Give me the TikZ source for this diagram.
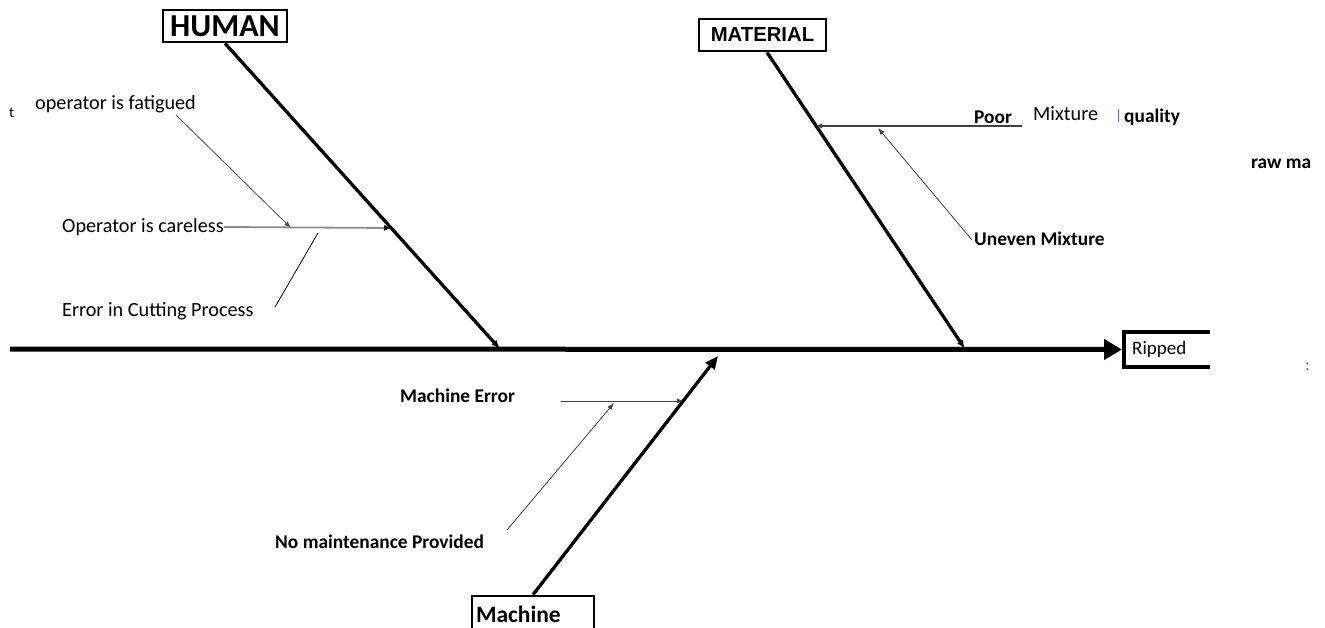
\documentclass[tikz,border=0pt]{standalone}
\usepackage{fontspec}
\setmainfont{Carlito}
\newfontfamily\arialf{Liberation Sans}
\usetikzlibrary{arrows.meta}
\begin{document}
\begin{tikzpicture}[x=1pt,y=-1pt,
 txt/.style={anchor=west,inner sep=0pt,font=\fontsize{20.2}{22}\selectfont},
 btxt/.style={anchor=west,inner sep=0pt,font=\fontsize{19.4}{22}\selectfont\bfseries},
 bone/.style={line width=3.3pt,-{Latex[length=9pt,width=7pt]}},
 sub/.style={line width=0.8pt,draw=black!75,-{Latex[length=7pt,width=5pt]}},
 plain/.style={line width=0.8pt,draw=black},
 cat/.style={draw,line width=2.6pt,inner sep=1pt,minimum height=32pt}]
\useasboundingbox (0,0) rectangle (1325,628);
% category boxes
\node[cat,minimum width=124pt,font=\fontsize{32}{34}\selectfont\bfseries] (human) at (225,26) {HUMAN};
\node[cat,minimum width=127pt,font=\arialf\fontsize{20.3}{22}\selectfont\bfseries] (material) at (762.5,35) {MATERIAL};
\node[cat,minimum height=36pt,text width=114pt,align=left,inner xsep=4pt,font=\fontsize{23.5}{26}\selectfont\bfseries] (machine) at (533,614) {Machine};
% effect
\node[inner xsep=8pt,text width=70pt,align=left,minimum height=35pt,anchor=west,font=\fontsize{19}{20}\selectfont] (effect) at (1124,349.5) {Ripped};
\draw[line width=4pt] (effect.north east) -- (effect.north west) -- (effect.south west) -- (effect.south east);
% spine
\coordinate (tail) at (10,349);
\draw[line width=5pt,-{Triangle[length=18pt,width=20pt]},shorten >=2pt] (tail) -- (effect.west);
% bones
\coordinate (hb) at (500,349);
\coordinate (mb) at (965,349);
\coordinate (kb) at (718,356);
\draw[bone] (human.south) -- (hb);
\draw[bone] ([xshift=4.5pt]material.south) -- (mb);
\draw[line width=3.3pt,-{Triangle[length=13pt,width=11pt]}] (machine.north) -- (kb);
% texts
\node[txt,font=\fontsize{15}{16}\selectfont] (t) at (9,113) {t};
\node[txt] (fatigued) at (35,104) {operator is fatigued};
\node[txt] (careless) at (62,227) {Operator is careless};
\node[txt] (cutting) at (62,311) {Error in Cutting Process};
\node[btxt] (poor) at (974,117) {Poor};
\node[txt] (mixture) at (1033,114) {Mixture};
\node[btxt] (quality) at (1124,117) {quality};
\node[btxt] (uneven) at (974,239) {Uneven Mixture};
\node[btxt] (rawma) at (1251,164) {raw ma};
\node[btxt] (merror) at (400,396) {Machine Error};
\node[btxt] (nomaint) at (275,542) {No maintenance Provided};
\node[txt,font=\fontsize{17}{18}\selectfont,text=black!60] (colon) at (1305,367) {:};
\coordinate (bar1) at (1118,109);
\coordinate (bar2) at (1118,122);
\draw[line width=1pt,draw=blue!60] (bar1) -- (bar2);
% sub-cause connectors
\coordinate (f1) at (176,115);
\coordinate (f2) at (291,228);
\coordinate (c2) at (392,228);
\coordinate (e1) at (318,233);
\coordinate (e2) at (275,307);
\coordinate (p1) at (1022,126);
\coordinate (p2) at (815,126);
\coordinate (u1) at (972,240);
\coordinate (u2) at (878,128);
\coordinate (me1) at (561,401);
\coordinate (me2) at (684,401);
\coordinate (n1) at (507,530);
\coordinate (n2) at (614,403);
\draw[sub,draw=black!70] (f1) -- (f2);
\draw[sub,line width=1.8pt,draw=black!45,-{Latex[length=8pt,width=6pt,fill=black,color=black]}] (careless.east) -- (c2);
\draw[plain] (e1) -- (e2);
\draw[sub,line width=1.2pt] (p1) -- (p2);
\draw[sub] (u1) -- (u2);
\draw[sub,line width=1pt] (me1) -- (me2);
\draw[sub] (n1) -- (n2);
\end{tikzpicture}
\end{document}
